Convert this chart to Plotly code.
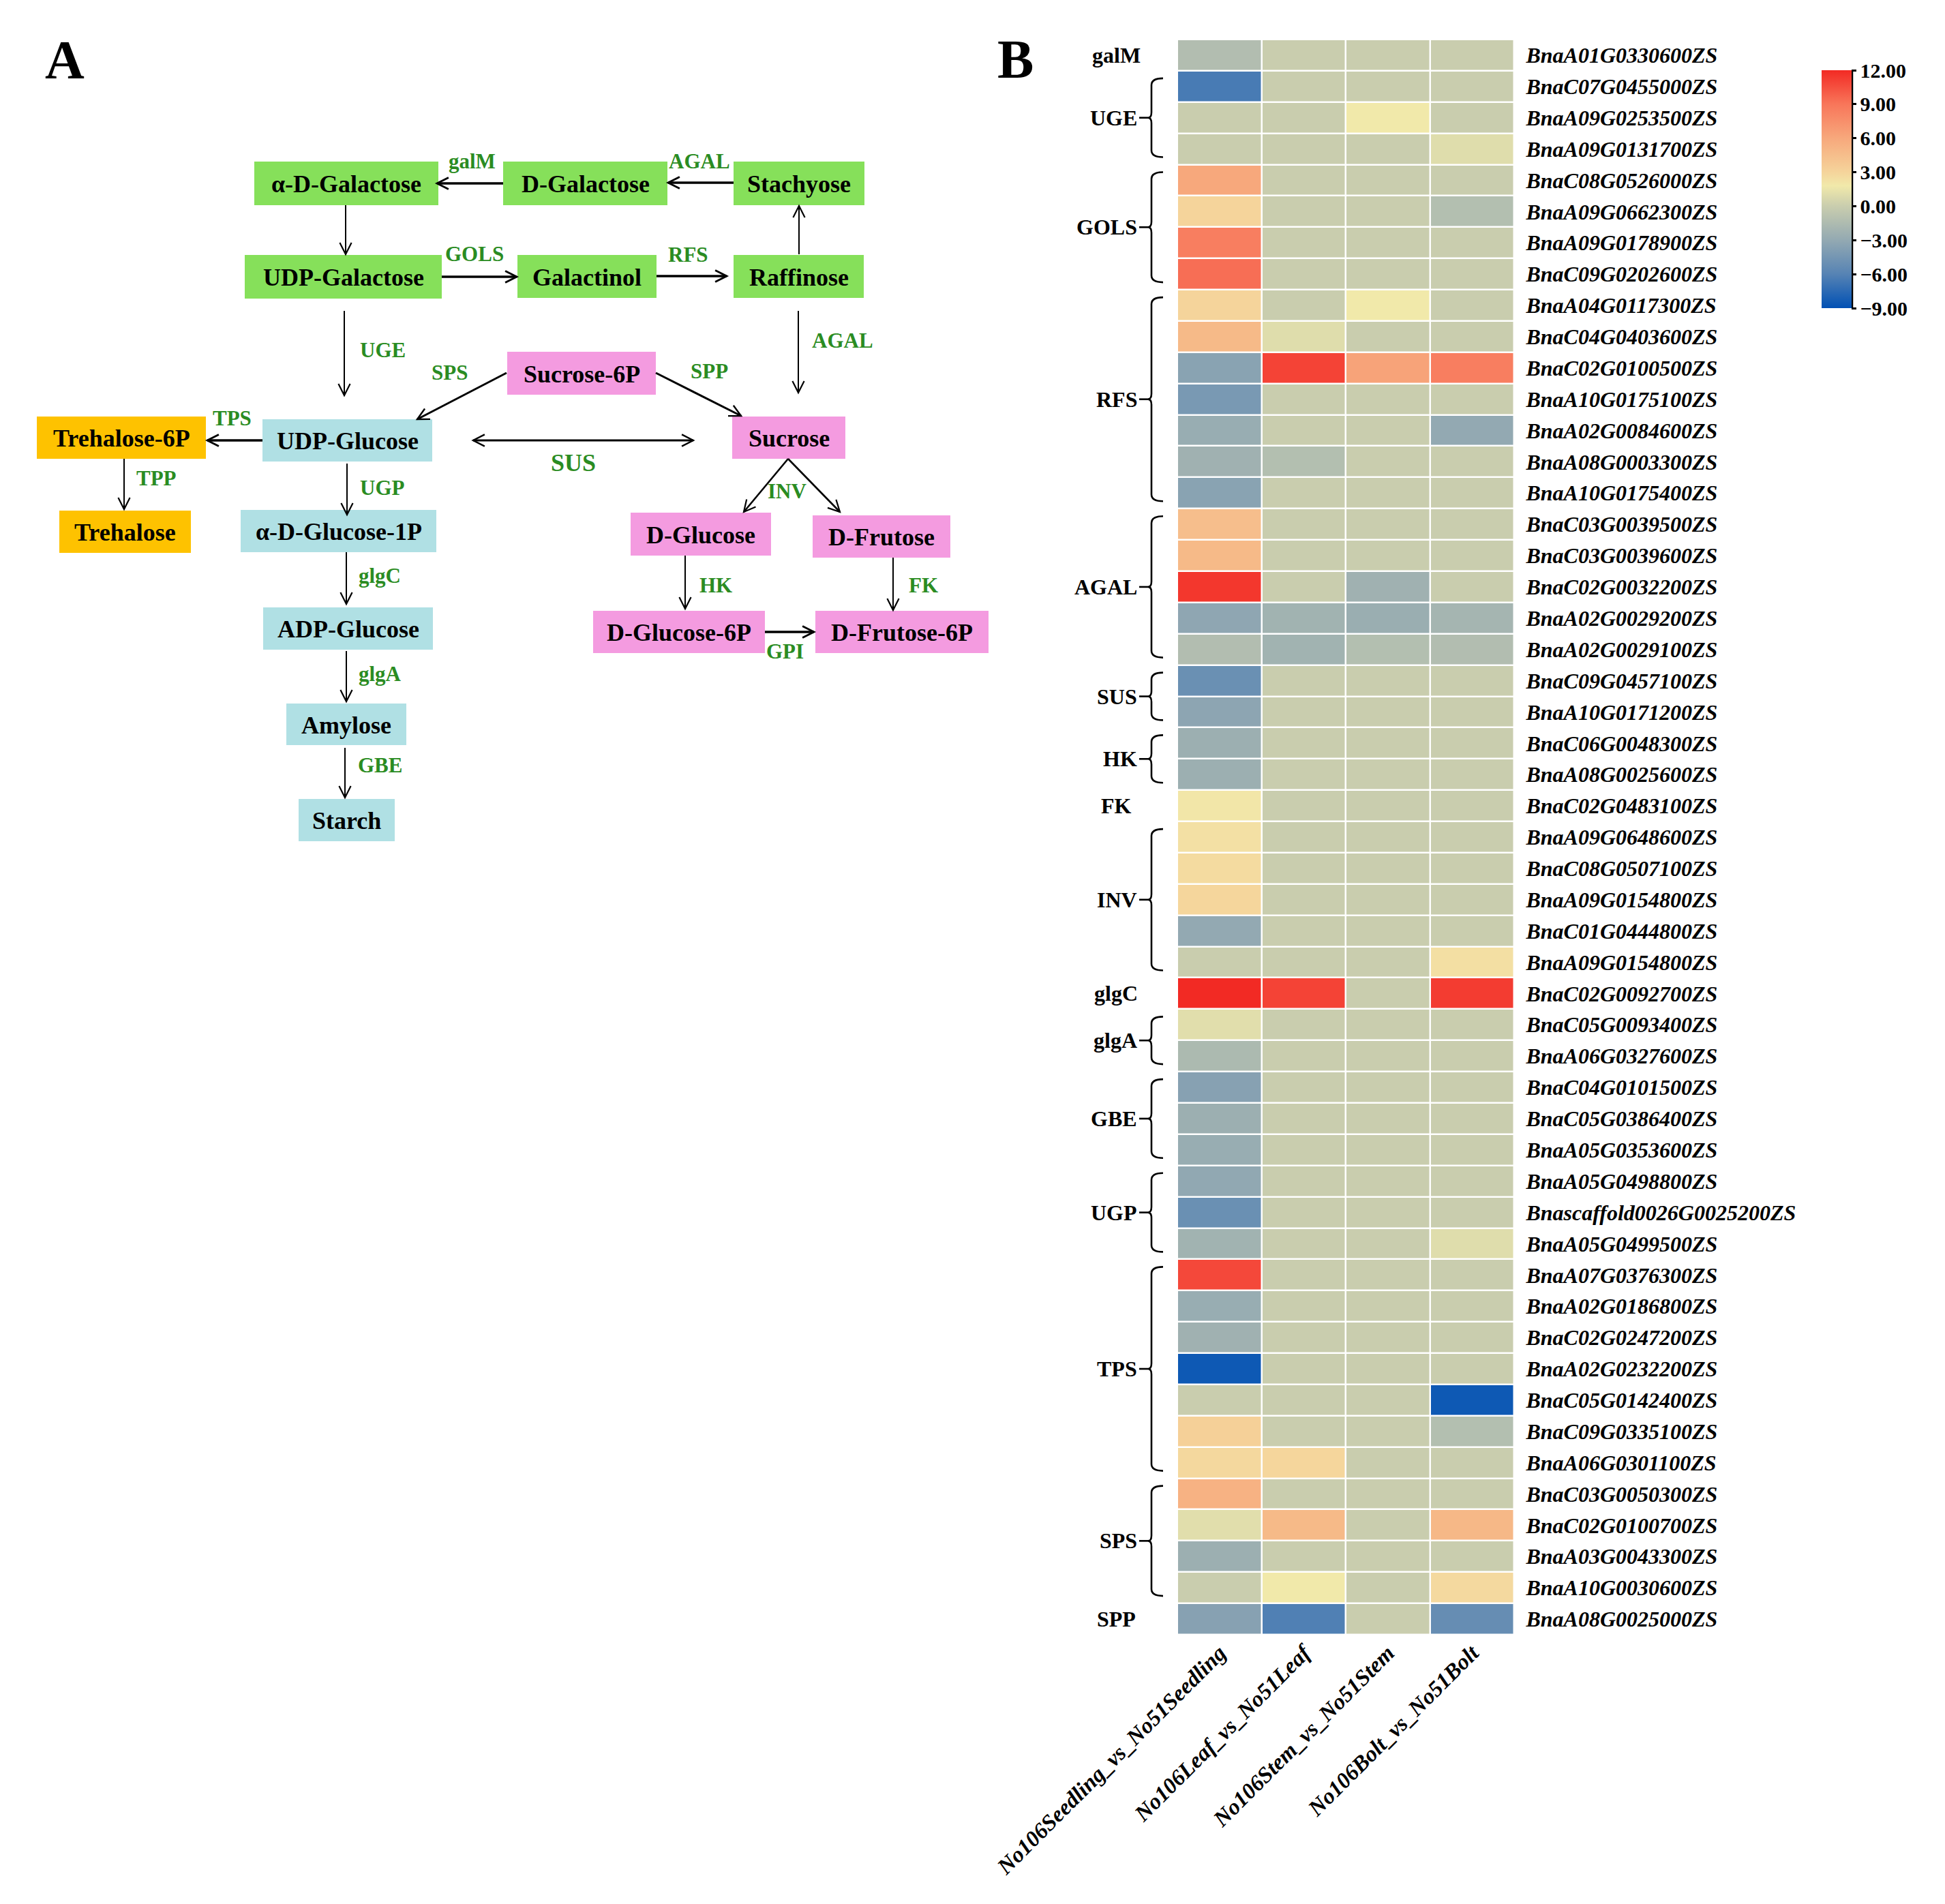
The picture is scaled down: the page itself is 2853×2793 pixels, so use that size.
import numpy as np
import plotly.graph_objects as go

W, H = 2853, 2793
FONT = "Times New Roman, Liberation Serif, serif"

# ---------------- data ----------------
genes = [
    "BnaA01G0330600ZS", "BnaC07G0455000ZS", "BnaA09G0253500ZS", "BnaA09G0131700ZS",
    "BnaC08G0526000ZS", "BnaA09G0662300ZS", "BnaA09G0178900ZS", "BnaC09G0202600ZS",
    "BnaA04G0117300ZS", "BnaC04G0403600ZS", "BnaC02G0100500ZS", "BnaA10G0175100ZS",
    "BnaA02G0084600ZS", "BnaA08G0003300ZS", "BnaA10G0175400ZS", "BnaC03G0039500ZS",
    "BnaC03G0039600ZS", "BnaC02G0032200ZS", "BnaA02G0029200ZS", "BnaA02G0029100ZS",
    "BnaC09G0457100ZS", "BnaA10G0171200ZS", "BnaC06G0048300ZS", "BnaA08G0025600ZS",
    "BnaC02G0483100ZS", "BnaA09G0648600ZS", "BnaC08G0507100ZS", "BnaA09G0154800ZS",
    "BnaC01G0444800ZS", "BnaA09G0154800ZS", "BnaC02G0092700ZS", "BnaC05G0093400ZS",
    "BnaA06G0327600ZS", "BnaC04G0101500ZS", "BnaC05G0386400ZS", "BnaA05G0353600ZS",
    "BnaA05G0498800ZS", "Bnascaffold0026G0025200ZS", "BnaA05G0499500ZS", "BnaA07G0376300ZS",
    "BnaA02G0186800ZS", "BnaC02G0247200ZS", "BnaA02G0232200ZS", "BnaC05G0142400ZS",
    "BnaC09G0335100ZS", "BnaA06G0301100ZS", "BnaC03G0050300ZS", "BnaC02G0100700ZS",
    "BnaA03G0043300ZS", "BnaA10G0030600ZS", "BnaA08G0025000ZS",
]
comparisons = ["No106Seedling_vs_No51Seedling", "No106Leaf_vs_No51Leaf",
               "No106Stem_vs_No51Stem", "No106Bolt_vs_No51Bolt"]

seedling = [-1.3, -6.5, 0, 0, 6.0, 3.0, 8.5, 9.3, 3.0, 4.8,
            -3.5, -4.3, -2.7, -2.3, -3.5, 4.5, 4.8, 11.5, -3.2, -1.3,
            -5.0, -3.3, -2.5, -2.5, 2.0, 2.3, 2.6, 2.9, -3.0, 0,
            12.0, 1.1, -1.6, -3.6, -2.5, -2.7, -3.1, -5.0, -2.2, 10.8,
            -2.7, -2.3, -8.5, 0, 3.3, 2.8, 5.3, 1.1, -2.5, 0, -3.6]
leaf = [0, 0, 0, 0, 0, 0, 0, 0, 0, 1.0,
        11.0, 0, 0, -1.2, 0, 0, 0, 0, -2.2, -2.2,
        0, 0, 0, 0, 0, 0, 0, 0, 0, 0,
        11.0, 0, 0, 0, 0, 0, 0, 0, 0, 0,
        0, 0, 0, 0, 0, 2.9, 0, 4.8, 0, 1.8, -6.2]
stem = [0, 0, 1.8, 0, 0, 0, 0, 0, 1.8, 0,
        6.3, 0, 0, 0, 0, 0, 0, -2.3, -2.6, -1.2,
        0, 0, 0, 0, 0, 0, 0, 0, 0, 0,
        0, 0, 0, 0, 0, 0, 0, 0, 0, 0,
        0, 0, 0, 0, 0, 0, 0, 0, 0, 0, 0]
bolt = [0, 0, 0, 1.0, 0, -1.2, 0, 0, 0, 0,
        8.5, 0, -3.0, 0, 0, 0, 0, 0, -2.0, -1.3,
        0, 0, 0, 0, 0, 0, 0, 0, 0, 2.4,
        11.3, 0, 0, 0, 0, 0, 0, 0, 1.0, 0,
        0, 0, 0, -8.5, -1.2, 0, 0, 4.9, 0, 2.7, -5.2]

groups = ["galM", "UGE", "GOLS", "RFS", "AGAL", "SUS", "HK", "FK", "INV",
          "glgC", "glgA", "GBE", "UGP", "TPS", "SPS", "SPP"]
group_sizes = [1, 3, 4, 7, 5, 2, 2, 1, 5, 1, 2, 3, 3, 7, 4, 1]
cbar_ticks = [-9, -6, -3, 0, 3, 6, 9, 12]

# pathway diagram (panel A)
node_names = ["α-D-Galactose", "D-Galactose", "Stachyose", "UDP-Galactose", "Galactinol",
              "Raffinose", "Sucrose-6P", "Sucrose", "D-Glucose", "D-Frutose",
              "D-Glucose-6P", "D-Frutose-6P", "Trehalose-6P", "Trehalose", "UDP-Glucose",
              "α-D-Glucose-1P", "ADP-Glucose", "Amylose", "Starch"]
node_kind = ["gal", "gal", "gal", "gal", "gal", "gal", "suc", "suc", "suc", "suc",
             "suc", "suc", "tre", "tre", "glc", "glc", "glc", "glc", "glc"]
reactions = [  # (from, to, enzyme)
    ("D-Galactose", "α-D-Galactose", "galM"),
    ("Stachyose", "D-Galactose", "AGAL"),
    ("α-D-Galactose", "UDP-Galactose", ""),
    ("UDP-Galactose", "Galactinol", "GOLS"),
    ("Galactinol", "Raffinose", "RFS"),
    ("Raffinose", "Stachyose", ""),
    ("UDP-Galactose", "UDP-Glucose", "UGE"),
    ("Raffinose", "Sucrose", "AGAL"),
    ("Sucrose-6P", "UDP-Glucose", "SPS"),
    ("Sucrose-6P", "Sucrose", "SPP"),
    ("UDP-Glucose", "Trehalose-6P", "TPS"),
    ("UDP-Glucose", "Sucrose", "SUS"),
    ("Trehalose-6P", "Trehalose", "TPP"),
    ("UDP-Glucose", "α-D-Glucose-1P", "UGP"),
    ("Sucrose", "D-Glucose", "INV"),
    ("Sucrose", "D-Frutose", ""),
    ("α-D-Glucose-1P", "ADP-Glucose", "glgC"),
    ("ADP-Glucose", "Amylose", "glgA"),
    ("Amylose", "Starch", "GBE"),
    ("D-Glucose", "D-Glucose-6P", "HK"),
    ("D-Frutose", "D-Frutose-6P", "FK"),
    ("D-Glucose-6P", "D-Frutose-6P", "GPI"),
]

# ---------------- layout constants (pixels) ----------------
kind_color = {"gal": "#86e05a", "suc": "#f49be0", "tre": "#fec200", "glc": "#b0e0e4"}
node_box = {
    "α-D-Galactose": (373, 237, 643, 301),
    "D-Galactose": (738, 237, 979, 301),
    "Stachyose": (1076, 237, 1268, 301),
    "UDP-Galactose": (359, 374, 648, 438),
    "Galactinol": (759, 374, 963, 437),
    "Raffinose": (1076, 374, 1267, 437),
    "Sucrose-6P": (744, 516, 962, 579),
    "Sucrose": (1074, 611, 1240, 673),
    "D-Glucose": (925, 752, 1131, 815),
    "D-Frutose": (1192, 756, 1394, 818),
    "D-Glucose-6P": (870, 896, 1122, 958),
    "D-Frutose-6P": (1196, 896, 1450, 958),
    "Trehalose-6P": (54, 611, 302, 673),
    "Trehalose": (87, 749, 280, 811),
    "UDP-Glucose": (385, 615, 634, 677),
    "α-D-Glucose-1P": (353, 748, 640, 810),
    "ADP-Glucose": (386, 891, 635, 953),
    "Amylose": (420, 1032, 596, 1093),
    "Starch": (438, 1172, 579, 1234),
}
# arrow geometry: start, end, width, double-headed
arrow_geom = [
    ((738, 269), (641, 269), 3.5, False),
    ((1076, 268), (980, 268), 3.5, False),
    ((507, 301), (507, 373), 2.0, False),
    ((648, 406), (758, 406), 3.5, False),
    ((963, 405), (1066, 405), 3.5, False),
    ((1172, 373), (1172, 302), 2.0, False),
    ((505, 456), (505, 580), 2.0, False),
    ((1171, 456), (1171, 576), 2.0, False),
    ((743, 547), (612, 615), 3.0, False),
    ((962, 547), (1087, 610), 3.0, False),
    ((385, 646), (304, 646), 3.5, False),
    ((694, 646), (1017, 646), 3.0, True),
    ((182, 673), (182, 747), 2.0, False),
    ((509, 680), (509, 755), 2.0, False),
    ((1156, 673), (1091, 751), 2.6, False),
    ((1156, 673), (1232, 751), 2.6, False),
    ((508, 810), (508, 886), 2.0, False),
    ((508, 955), (508, 1029), 2.0, False),
    ((506, 1097), (506, 1170), 2.0, False),
    ((1005, 815), (1005, 893), 2.0, False),
    ((1310, 818), (1310, 895), 2.0, False),
    ((1122, 927), (1194, 927), 3.5, False),
]
enzyme_pos = [(692, 236), (1026, 236), None, (696, 372), (1009, 373), None,
              (561, 513), (1236, 499), (659, 546), (1040, 544), (340, 613),
              (841, 679), (229, 701), (561, 715), (1154, 720), None,
              (557, 844), (557, 988), (557, 1122), (1050, 858), (1354, 858),
              (1151, 955)]

HM_L, HM_R, HM_T, HM_B = 1727, 2221, 58, 2398
CB_L, CB_T, CB_B, CB_W = 2672, 103, 452, 44

# ---------------- figure ----------------
z = np.array([seedling, leaf, stem, bolt], dtype=float).T
zmin, zmax = -9, 12
cstops = [(-9, "#0050b4"), (-6, "#5683b4"), (-3, "#93a9b2"), (0, "#c9cdae"),
          (1.8, "#f1e9aa"), (3, "#f5d49b"), (6, "#f7a87c"), (9, "#f8765a"), (12, "#f22a24")]
colorscale = [[(v - zmin) / (zmax - zmin), c] for v, c in cstops]

fig = go.Figure()
fig.add_trace(go.Heatmap(
    z=z.tolist(), x=list(range(len(comparisons))), y=list(range(len(genes))),
    zmin=zmin, zmax=zmax, colorscale=colorscale, xgap=2.5, ygap=2.5,
    colorbar=dict(
        x=CB_L / W, xanchor="left", y=1 - CB_T / H, yanchor="top",
        len=(CB_B - CB_T) / H, lenmode="fraction", thickness=CB_W, thicknessmode="pixels",
        xpad=0, ypad=0, outlinewidth=0, tickvals=cbar_ticks, tickformat=".2f",
        ticks="outside", ticklen=7, tickwidth=2.5, tickcolor="black",
        tickfont=dict(family=FONT, size=30, color="black", weight="bold"),
    ),
    hoverinfo="skip",
))

# invisible anchor trace for the diagram axes
fig.add_trace(go.Scatter(
    x=[(node_box[n][0] + node_box[n][2]) / 2 for n in node_names],
    y=[(node_box[n][1] + node_box[n][3]) / 2 for n in node_names],
    mode="markers", marker=dict(opacity=0), xaxis="x2", yaxis="y2",
    hoverinfo="skip", showlegend=False))

shapes, annotations = [], []

# boxes + labels
for name, kind in zip(node_names, node_kind):
    x0, y0, x1, y1 = node_box[name]
    shapes.append(dict(type="rect", xref="x2", yref="y2", x0=x0, y0=y0, x1=x1, y1=y1,
                       fillcolor=kind_color[kind], line=dict(width=0), layer="below"))
    annotations.append(dict(xref="x2", yref="y2", x=(x0 + x1) / 2, y=(y0 + y1) / 2 + 1,
                            text=name, showarrow=False, xanchor="center", yanchor="middle",
                            font=dict(family=FONT, size=36, color="black", weight="bold")))


def head(xs, ys, xe, ye, w):
    ang = np.arctan2(ye - ys, xe - xs)
    L, a = 19, np.radians(27)
    p1 = (xe - L * np.cos(ang - a), ye - L * np.sin(ang - a))
    p2 = (xe - L * np.cos(ang + a), ye - L * np.sin(ang + a))
    return dict(type="path", xref="x2", yref="y2",
                path=f"M{p1[0]:.1f},{p1[1]:.1f} L{xe},{ye} L{p2[0]:.1f},{p2[1]:.1f}",
                line=dict(color="black", width=w), fillcolor="rgba(0,0,0,0)")


for (xs, ys), (xe, ye), w, dbl in arrow_geom:
    shapes.append(dict(type="line", xref="x2", yref="y2", x0=xs, y0=ys, x1=xe, y1=ye,
                       line=dict(color="black", width=w)))
    shapes.append(head(xs, ys, xe, ye, max(w * 0.8, 2.2)))
    if dbl:
        shapes.append(head(xe, ye, xs, ys, max(w * 0.8, 2.2)))

for r, epos in zip(reactions, enzyme_pos):
    if r[2] and epos is not None:
        annotations.append(dict(xref="x2", yref="y2", x=epos[0], y=epos[1], text=r[2],
                                showarrow=False, xanchor="center", yanchor="middle",
                                font=dict(family=FONT, size=36 if r[2] == "SUS" else 31,
                                          color="#2a8c22", weight="bold")))

# panel letters
for letter, (lx, ly) in (("A", (95, 88)), ("B", (1489, 87))):
    annotations.append(dict(xref="x2", yref="y2", x=lx, y=ly, text=letter, showarrow=False,
                            xanchor="center", yanchor="middle",
                            font=dict(family=FONT, size=80, color="black", weight="bold")))

# group labels and braces
row_h = (HM_B - HM_T) / len(genes)
start = 0
for g, n in zip(groups, group_sizes):
    top = HM_T + start * row_h
    bot = HM_T + (start + n) * row_h
    mid = (top + bot) / 2
    gfont = dict(family=FONT, size=32, color="black", weight="bold")
    if n == 1:
        annotations.append(dict(xref="x2", yref="y2", x=1637, y=mid, text=g, showarrow=False,
                                xanchor="center", yanchor="middle", font=gfont))
    else:
        t, b = top + 11, bot - 11
        bx, ex, cx = 1689, 1706, 1684
        path = (f"M{ex},{t:.1f} Q{bx},{t:.1f} {bx},{t + 10:.1f} L{bx},{mid - 8:.1f} "
                f"Q{bx},{mid:.1f} {cx},{mid:.1f} Q{bx},{mid:.1f} {bx},{mid + 8:.1f} "
                f"L{bx},{b - 10:.1f} Q{bx},{b:.1f} {ex},{b:.1f}")
        shapes.append(dict(type="path", xref="x2", yref="y2", path=path,
                           line=dict(color="black", width=2.6), fillcolor="rgba(0,0,0,0)"))
        shapes.append(dict(type="line", xref="x2", yref="y2", x0=1671, y0=mid, x1=cx, y1=mid,
                           line=dict(color="black", width=2.6)))
        annotations.append(dict(xref="x2", yref="y2", x=1670, y=mid, text=g, showarrow=False,
                                xanchor="right", yanchor="middle", font=gfont))
    start += n

# colorbar axis line
shapes.append(dict(type="line", xref="x2", yref="y2", x0=CB_L + CB_W + 1, y0=CB_T,
                   x1=CB_L + CB_W + 1, y1=CB_B, line=dict(color="black", width=2.5)))

fig.update_layout(
    template="none",
    width=W, height=H, margin=dict(l=0, r=0, t=0, b=0, pad=0, autoexpand=False),
    paper_bgcolor="white", plot_bgcolor="rgba(0,0,0,0)", showlegend=False,
    shapes=shapes, annotations=annotations,
    xaxis=dict(domain=[HM_L / W, HM_R / W], tickmode="array",
               tickvals=list(range(len(comparisons))),
               ticktext=comparisons, tickangle=-45, showgrid=False, zeroline=False,
               ticks="", showline=False, automargin=False,
               range=[-0.5, len(comparisons) - 0.5],
               tickfont=dict(family=FONT, size=33, color="black", weight="bold", style="italic")),
    yaxis=dict(domain=[1 - HM_B / H, 1 - HM_T / H], tickmode="array",
               tickvals=list(range(len(genes))),
               ticktext=genes, side="right", showgrid=False, zeroline=False, ticks="outside",
               ticklen=10, tickcolor="rgba(0,0,0,0)", automargin=False,
               range=[len(genes) - 0.5, -0.5],
               tickfont=dict(family=FONT, size=32, color="black", weight="bold", style="italic")),
    xaxis2=dict(domain=[0, 1], range=[0, W], visible=False, anchor="y2", automargin=False),
    yaxis2=dict(domain=[0, 1], range=[H, 0], visible=False, anchor="x2", automargin=False),
)

fig.write_html("out.html", post_script="document.body.style.margin='0px';",
               config={"displayModeBar": False})
